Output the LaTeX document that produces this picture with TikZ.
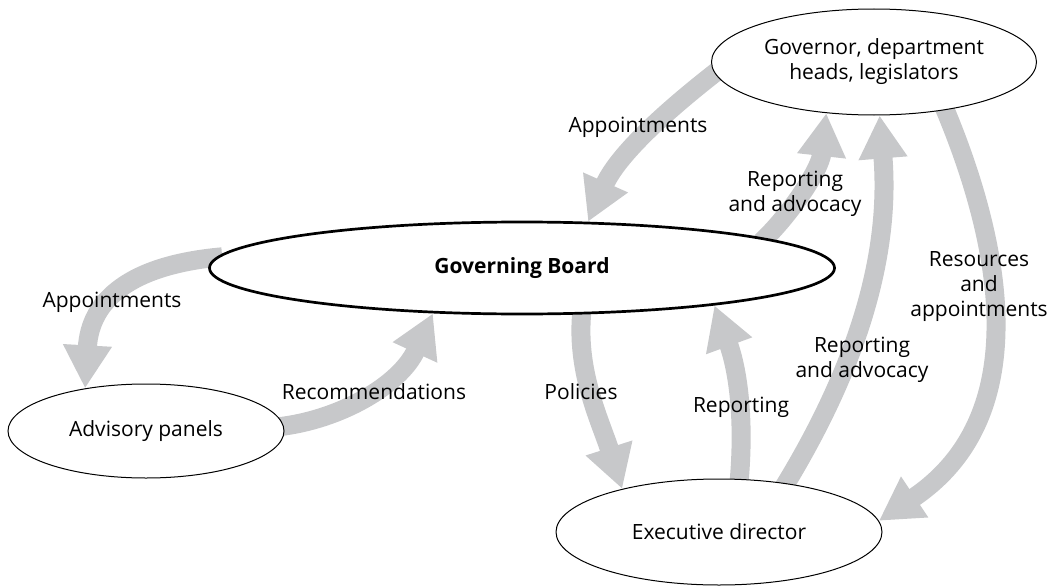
\documentclass[tikz,border=0pt]{standalone}
\usepackage{fontspec}
\setmainfont{Open Sans}
\usepackage{tikz}
\usetikzlibrary{shapes,arrows.meta,backgrounds}
\definecolor{flowgray}{RGB}{199,200,202}
\newcommand{\labelfont}{\fontsize{21}{25}\selectfont}
\tikzstyle{bubble}=[draw, ellipse, fill=white, inner sep=0pt, align=center, line width=1pt]
\tikzstyle{mainbubble}=[bubble, line width=2.7pt, font=\labelfont\bfseries]
\tikzstyle{flow}=[color=flowgray, line width=19pt, -{Triangle[width=46pt,length=43pt]}, shorten <=-6pt]
\tikzstyle{flowlabel}=[align=center, inner sep=0pt]

\begin{document}
\begin{tikzpicture}[x=1pt,y=-1pt,font=\labelfont]
	\useasboundingbox (0,0) rectangle (1055,586);
	\node[bubble, minimum width=325pt, minimum height=106pt] (gov) at (874,62) {Governor, department\\heads, legislators};
	\node[mainbubble, minimum width=625pt, minimum height=92pt] (board) at (522,268) {Governing Board};
	\node[bubble, minimum width=276pt, minimum height=94pt] (panels) at (146,431) {Advisory panels};
	\node[bubble, minimum width=326pt, minimum height=106pt] (exec) at (719,532) {Executive director};
	\node[flowlabel] (appgov) at (638,127) {Appointments};
	\node[flowlabel] (repadv) at (795,194) {Reporting\\and advocacy};
	\node[flowlabel] (resapp) at (979,287) {Resources\\and\\appointments};
	\node[flowlabel] (appboard) at (112,302) {Appointments};
	\node[flowlabel] (recomm) at (374,392) {Recommendations};
	\node[flowlabel] (policies) at (581,392) {Policies};
	\node[flowlabel] (reporting) at (741,407) {Reporting};
	\node[flowlabel] (repadvexec) at (862,360) {Reporting\\and advocacy};
	\begin{scope}[on background layer]
		\draw[flow] (gov.184) .. controls (680,100) and (620,150) .. (board.35);
		\draw[flow] (board.7) .. controls (790,215) and (820,170) .. (gov.227);
		\draw[flow] (exec.36) .. controls (880,330) and (888,220) .. (gov.276);
		\draw[flow] (gov.326) .. controls (992,220) and (1045,410) .. (exec.4);
		\draw[flow] (board.178) .. controls (130,265) and (90,300) .. (panels.145);
		\draw[flow] (panels.2) .. controls (340,420) and (400,385) .. (board.207);
		\draw[flow] (board.322) .. controls (575,370) and (600,420) .. (exec.156);
		\draw[flow] (exec.69) .. controls (745,420) and (738,370) .. (board.349);
	\end{scope}
\end{tikzpicture}
\end{document}
